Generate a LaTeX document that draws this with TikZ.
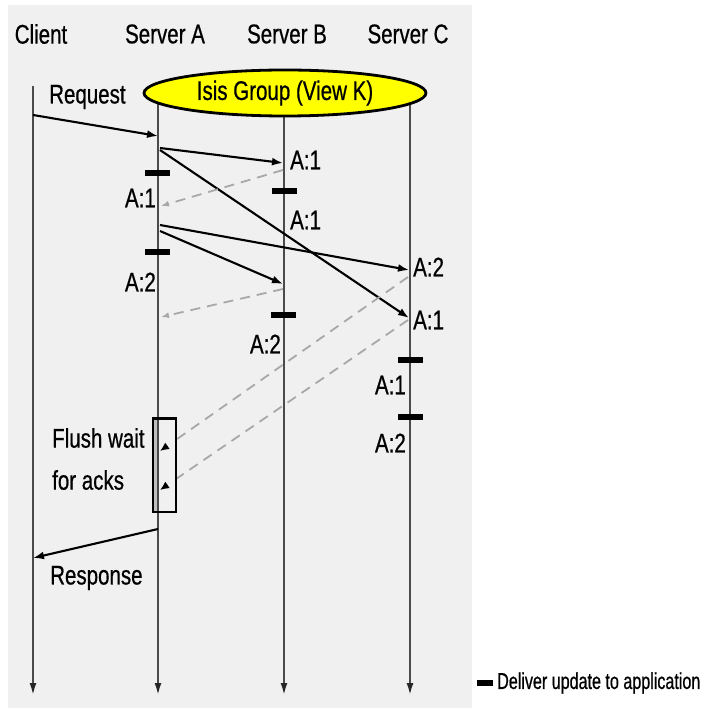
\documentclass[tikz,border=0pt]{standalone}
\usepackage{fontspec}
\setmainfont{Liberation Sans}[FakeStretch=0.76,FakeBold=0.6]
\newfontfamily\legfont{Liberation Sans}[FakeStretch=0.70,FakeBold=0.6]
\usetikzlibrary{arrows.meta,shapes.geometric,calc}
\definecolor{bgc}{HTML}{F0F0F0}
\definecolor{isisyellow}{HTML}{FFFF00}
\definecolor{lifec}{HTML}{4A4A4A}
\definecolor{ackc}{HTML}{A8A8A8}
\begin{document}
\begin{tikzpicture}[x=1pt,y=-1pt,
  font=\fontsize{27}{30}\selectfont,
  life/.style={draw=lifec, line width=1.9pt, -{Latex[length=12pt,width=7pt,color=black!85]}},
  msg/.style={draw=black, line width=2.1pt, -{Latex[length=11pt,width=8pt]}},
  ack/.style={draw=ackc, line width=1.8pt, dash pattern=on 10pt off 7pt, -{Latex[length=8pt,width=6pt]}},
  acktip/.style={draw=black, line width=1.5pt, -{Latex[length=9pt,width=8pt]}},
  dbar/.style={fill=black, minimum width=25pt, minimum height=6.5pt, inner sep=0pt},
  lbl/.style={inner sep=0pt},
  hdr/.style={inner sep=0pt}]
\useasboundingbox (0,0) rectangle (704,708);
\fill[bgc] (8,5) rectangle (472,708);

% headers
\node[hdr] (hC) at (41,34) {Client};
\node[hdr] (hA) at (165,34) {Server A};
\node[hdr] (hB) at (287,34) {Server B};
\node[hdr] (hCc) at (408,34) {Server C};

% lifeline endpoints
\coordinate (cTop) at (33,86);
\coordinate (cBot) at (33,695);
\coordinate (aTop) at (158,95);
\coordinate (aBot) at (158,695);
\coordinate (bTop) at (284,95);
\coordinate (bBot) at (284,695);
\coordinate (sTop) at (410,95);
\coordinate (sBot) at (410,695);

\draw[life] (cTop) -- (cBot);
\draw[life] (aTop) -- (aBot);
\draw[life] (bTop) -- (bBot);
\draw[life] (sTop) -- (sBot);

% group ellipse
\node[draw=black, line width=2.8pt, fill=isisyellow, ellipse, minimum width=282pt, minimum height=46pt, inner sep=0pt] (grp) at (285,93) {};
\node[lbl] (grpt) at (285,93) {Isis Group (View K)};

% message points
\coordinate (rq0) at (33,115);
\coordinate (rq1) at (158,136);
\coordinate (m1s) at (160,148);
\coordinate (m1e) at (283,163);
\coordinate (m2s) at (160,150);
\coordinate (m2e) at (409,318);
\coordinate (m3s) at (160,225);
\coordinate (m3e) at (409,270);
\coordinate (m4s) at (160,231);
\coordinate (m4e) at (283,284);
\coordinate (k1s) at (283,170);
\coordinate (k1e) at (161,206);
\coordinate (k2s) at (283,289);
\coordinate (k2e) at (161,317);
\coordinate (k3s) at (408,277);
\coordinate (k3e) at (160,451);
\coordinate (k4s) at (408,320);
\coordinate (k4e) at (160,490);
\coordinate (rs0) at (158,529);
\coordinate (rs1) at (33,558);

% messages
\draw[msg] (rq0) -- (rq1);
\draw[msg] (m1s) -- (m1e);
\draw[msg] (m2s) -- (m2e);
\draw[msg] (m3s) -- (m3e);
\draw[msg] (m4s) -- (m4e);
\draw[msg] (rs0) -- (rs1);

% acks
\draw[ack] (k1s) -- (k1e);
\draw[ack] (k2s) -- (k2e);
\draw[ack, -] (k3s) -- (k3e);
\draw[ack, -] (k4s) -- (k4e);

% flush box
\node[draw=none, fill=bgc, minimum width=23pt, minimum height=93pt, inner sep=0pt] (flush) at (164.5,465) {};
\fill[black!25] (flush.north west) rectangle (158,511.5);
\draw[lifec, line width=1.9pt] (158,418) -- (158,512);
\draw[draw=black, line width=2.4pt] (flush.north west) rectangle (flush.south east);
\draw[acktip] ($(k3e)!9pt!(k3s)$) -- (k3e);
\draw[acktip] ($(k4e)!9pt!(k4s)$) -- (k4e);

% delivery bars
\node[dbar] (dA1) at (157,173) {};
\node[dbar] (dA2) at (157,252) {};
\node[dbar] (dB1) at (284,191) {};
\node[dbar] (dB2) at (283,315) {};
\node[dbar] (dC1) at (410,360) {};
\node[dbar] (dC2) at (410,417) {};

% labels
\node[lbl, anchor=west] (lreq) at (49,97) {Request};
\node[lbl, anchor=west] (lB1) at (290,160) {A:1};
\node[lbl, anchor=west] (lB1b) at (290,220) {A:1};
\node[lbl, anchor=west] (lC2) at (413,267) {A:2};
\node[lbl, anchor=west] (lC1) at (413,320) {A:1};
\node[lbl, anchor=east] (lA1) at (156,198) {A:1};
\node[lbl, anchor=east] (lA2) at (156,282) {A:2};
\node[lbl, anchor=east] (lB2) at (281,344) {A:2};
\node[lbl, anchor=east] (lCd1) at (406,385) {A:1};
\node[lbl, anchor=east] (lCd2) at (406,443) {A:2};
\node[lbl, anchor=west] (lfl1) at (52,438) {Flush wait};
\node[lbl, anchor=west] (lfl2) at (52,480) {for acks};
\node[lbl, anchor=west] (lresp) at (50,578) {Response};

% legend
\node[dbar, minimum width=16pt] (legbar) at (485,683) {};
\node[lbl, anchor=west, font=\legfont\fontsize{23}{26}\selectfont] (legt) at (497,683) {Deliver update to application};
\end{tikzpicture}
\end{document}
